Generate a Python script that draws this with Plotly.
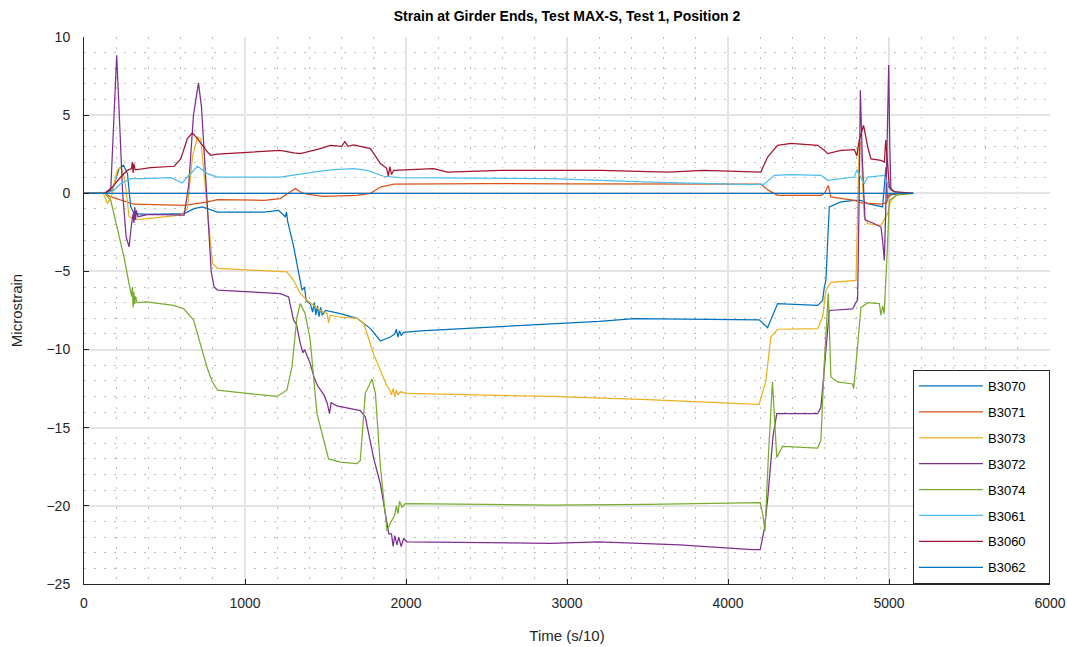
import plotly.graph_objects as go

names = ["B3070", "B3071", "B3073", "B3072", "B3074", "B3061", "B3060", "B3062"]
colors = ["#0072BD", "#D95319", "#EDB120", "#7E2F8E", "#77AC30", "#4DBEEE", "#A2142F", "#0072BD"]

b3070_x = [0, 130, 176, 218, 245, 270, 290, 311, 400, 622, 684, 736, 829, 1119, 1209, 1250, 1258, 1265, 1302, 1333, 1354, 1370, 1380, 1405, 1420, 1430, 1440, 1450, 1460, 1470, 1480, 1500, 1592, 1696, 1779, 1841, 1903, 1930, 1940, 1950, 1960, 1970, 1985, 2090, 2276, 2500, 2898, 3200, 3416, 3800, 4142, 4194, 4246, 4308, 4557, 4588, 4598, 4608, 4629, 4701, 4785, 4826, 4868, 4960, 4981, 4990, 5010, 5080, 5150]
b3070_y = [0, 0, 0.2, 1.58, 1.8, 1.26, -0.87, -1.3, -1.35, -1.3, -0.98, -0.87, -1.2, -1.2, -1.09, -1.5, -1.2, -1.8, -3.4, -5.1, -6.2, -6.0, -6.9, -7.06, -7.6, -7.0, -7.8, -7.2, -7.9, -7.3, -7.8, -7.5, -7.7, -8.0, -8.66, -9.45, -9.2, -9.0, -8.7, -9.2, -8.8, -9.1, -8.9, -8.8, -8.7, -8.55, -8.34, -8.2, -8.02, -8.05, -8.1, -8.1, -8.6, -7.06, -7.17, -6.85, -6.0, -5.57, -0.87, -0.55, -0.45, -0.45, -0.66, -0.87, 1.68, -0.3, -0.1, 0, 0]

b3071_x = [0, 130, 166, 228, 311, 622, 767, 829, 1119, 1219, 1280, 1312, 1350, 1385, 1488, 1696, 1779, 1841, 1924, 2090, 2500, 3000, 3500, 4038, 4204, 4250, 4308, 4577, 4600, 4623, 4639, 4785, 4826, 4950, 4985, 5000, 5050, 5150]
b3071_y = [0, 0, -0.23, -0.45, -0.7, -0.77, -0.55, -0.4, -0.45, -0.34, 0.1, 0.3, 0.05, -0.06, -0.19, -0.13, 0, 0.4, 0.58, 0.6, 0.62, 0.6, 0.6, 0.58, 0.58, 0.2, -0.13, -0.13, 0, 0.5, -0.23, -0.45, -0.62, -0.7, -0.6, -0.1, 0, 0]

b3073_x = [0, 120, 145, 170, 207, 228, 245, 259, 280, 332, 601, 642, 673, 705, 725, 757, 798, 829, 1119, 1260, 1302, 1343, 1385, 1468, 1510, 1519, 1530, 1571, 1696, 1737, 1799, 1861, 1880, 1900, 1910, 1920, 1930, 1940, 1950, 1965, 2007, 2898, 3500, 4080, 4194, 4235, 4266, 4308, 4557, 4588, 4608, 4639, 4764, 4795, 4815, 4825, 4846, 4868, 4950, 4971, 4992, 5010, 5050, 5150]
b3073_y = [0, 0, -0.66, -0.2, 1.47, 1.68, 1.2, 0.4, -1.5, -1.68, -1.4, -0.98, 2.3, 3.6, 3.5, 0.2, -4.5, -4.8, -4.97, -5.03, -5.57, -6.4, -6.85, -7.5, -7.7, -8.3, -7.8, -7.9, -8.0, -8.3, -10.3, -11.75, -12.3, -12.6, -12.9, -12.5, -13.0, -12.6, -12.9, -12.7, -12.8, -13.0, -13.2, -13.46, -13.5, -12.0, -9.2, -8.7, -8.66, -7.9, -6.2, -5.7, -5.57, -5.57, 3.2, 3.3, -1.5, -1.94, -2.05, -1.7, -1.3, -0.5, -0.1, 0]

b3072_x = [0, 124, 166, 185, 203, 215, 240, 262, 280, 295, 305, 310, 315, 320, 325, 335, 400, 622, 650, 680, 711, 730, 760, 790, 808, 830, 970, 1032, 1219, 1271, 1301, 1320, 1343, 1360, 1370, 1405, 1430, 1450, 1470, 1490, 1510, 1525, 1535, 1571, 1716, 1747, 1800, 1841, 1893, 1910, 1920, 1930, 1944, 1955, 1970, 1985, 2007, 2898, 3200, 3700, 4150, 4200, 4225, 4246, 4280, 4303, 4557, 4577, 4600, 4629, 4774, 4805, 4815, 4822, 4835, 4851, 4900, 4950, 4960, 4971, 4980, 4998, 5005, 5012, 5050, 5150]
b3072_y = [0, 0, 0.2, 5.0, 8.83, 6.0, 0, -2.8, -3.43, -2.0, -1.3, -1.9, -0.9, -1.7, -1.1, -1.5, -1.35, -1.4, 0.5, 5.0, 7.06, 5.5, 0, -5.0, -6.0, -6.2, -6.27, -6.3, -6.42, -6.63, -8.1, -8.4, -9.6, -10.2, -10.0, -10.9, -11.8, -12.3, -12.6, -12.9, -13.4, -14.1, -13.4, -13.6, -13.9, -14.3, -17.0, -18.6, -21.8, -21.8, -22.6, -21.9, -22.5, -22.0, -22.6, -22.1, -22.3, -22.4, -22.3, -22.5, -22.8, -22.8, -21.5, -19.6, -15.5, -14.1, -14.1, -13.7, -11.0, -7.5, -7.4, -6.8, 0, 6.6, 2.0, -1.7, -1.9, -2.16, -3.0, -4.3, -1.0, 8.2, 3.0, 0.2, 0.05, 0]

b3074_x = [0, 130, 166, 207, 249, 280, 296, 300, 305, 310, 315, 320, 330, 390, 555, 618, 680, 763, 794, 829, 1032, 1198, 1260, 1292, 1323, 1343, 1374, 1405, 1447, 1519, 1592, 1696, 1716, 1747, 1789, 1810, 1841, 1882, 1903, 1930, 1940, 1950, 1960, 1975, 1996, 2898, 3500, 4150, 4200, 4215, 4230, 4250, 4276, 4303, 4339, 4557, 4577, 4598, 4623, 4639, 4681, 4774, 4780, 4795, 4826, 4868, 4940, 4950, 4960, 4970, 4981, 4990, 5002, 5050, 5150]
b3074_y = [0, 0, -0.45, -2.2, -4.1, -5.8, -6.6, -6.0, -7.3, -6.3, -7.1, -6.6, -7.0, -6.95, -7.17, -7.37, -8.1, -11.1, -12.0, -12.6, -12.8, -13.0, -12.6, -11.1, -7.9, -7.06, -7.7, -9.4, -14.1, -17.0, -17.2, -17.3, -17.1, -12.8, -11.9, -12.8, -17.5, -21.6, -21.1, -20.6, -20.0, -20.5, -19.7, -20.1, -19.85, -19.96, -19.9, -19.8, -19.8, -20.5, -21.6, -17.0, -12.07, -16.9, -16.2, -16.3, -15.8, -10.9, -6.4, -11.75, -12.07, -12.2, -12.5, -10.9, -7.3, -7.0, -7.06, -7.8, -7.2, -7.7, -5.6, -3.5, -0.45, -0.1, 0]

b3061_x = [0, 140, 187, 228, 290, 373, 539, 611, 642, 705, 767, 829, 1119, 1219, 1426, 1530, 1675, 1758, 1861, 1965, 2898, 3520, 4142, 4225, 4287, 4391, 4577, 4619, 4785, 4800, 4846, 4868, 4971, 5002, 5050, 5150]
b3061_y = [0, 0, 0.2, 0.62, 0.94, 0.94, 1.0, 0.66, 1.04, 1.73, 1.26, 1.04, 1.04, 1.04, 1.36, 1.5, 1.58, 1.47, 1.09, 1.0, 0.94, 0.72, 0.56, 0.58, 1.15, 1.2, 1.15, 0.83, 1.04, 1.5, 0.62, 1.04, 1.15, 0.3, 0.05, 0]

b3060_x = [0, 130, 176, 228, 270, 295, 300, 305, 310, 318, 415, 560, 601, 642, 673, 705, 767, 788, 829, 1119, 1219, 1302, 1343, 1468, 1530, 1600, 1620, 1640, 1675, 1779, 1841, 1880, 1890, 1900, 1910, 1924, 2172, 2256, 2587, 3209, 3624, 3850, 4142, 4204, 4246, 4308, 4391, 4557, 4598, 4619, 4701, 4785, 4800, 4815, 4842, 4868, 4888, 4950, 4971, 4980, 5002, 5030, 5150]
b3060_y = [0, 0, 0.4, 1.04, 1.47, 1.58, 2.0, 1.3, 1.9, 1.5, 1.64, 1.73, 2.2, 3.5, 3.86, 3.5, 2.64, 2.43, 2.5, 2.69, 2.75, 2.58, 2.54, 2.86, 3.07, 3.0, 3.3, 3.0, 3.1, 2.86, 1.9, 1.6, 1.1, 1.7, 1.2, 1.47, 1.58, 1.36, 1.47, 1.47, 1.36, 1.47, 1.36, 1.36, 2.32, 3.07, 3.2, 3.07, 2.75, 2.54, 2.75, 2.8, 2.4, 3.4, 4.35, 2.96, 2.2, 2.1, 2.0, 3.4, 0.4, 0.1, 0]

b3062_x = [0, 5150]
b3062_y = [0, 0]

series_x = [b3070_x, b3071_x, b3073_x, b3072_x, b3074_x, b3061_x, b3060_x, b3062_x]
series_y = [b3070_y, b3071_y, b3073_y, b3072_y, b3074_y, b3061_y, b3060_y, b3062_y]

FONT = "Arial, Liberation Sans, Helvetica, sans-serif"
PAD = "\u00a0" * 5

fig = go.Figure()
for n, c, xs, ys in zip(names, colors, series_x, series_y):
    fig.add_trace(go.Scatter(x=xs, y=ys, mode="lines", name=n + PAD, legendgroup=n,
                             line=dict(color=c, width=1.25)))

axis_common = dict(
    showline=True, linecolor="#262626", linewidth=1, mirror=False,
    ticks="inside", ticklen=5, tickcolor="#262626",
    showgrid=True, gridcolor="#e3e3e3", gridwidth=1.5,
    zeroline=False, automargin=False,
    tickfont=dict(family=FONT, size=14, color="#262626"),
    ticklabeloverflow="allow",
)

minor_style = dict(showgrid=True, gridcolor="#bdbdbd", griddash="1.5px,8.5px", gridwidth=1, ticks="")

fig.update_xaxes(range=[0, 6000], dtick=1000, tick0=0,
                 minor=dict(dtick=200, **minor_style),
                 ticklabelstandoff=6,
                 title=dict(text="Time (s/10)", font=dict(family=FONT, size=15, color="#262626"), standoff=20),
                 **axis_common)
fig.update_yaxes(range=[-25, 10], dtick=5, tick0=0,
                 minor=dict(dtick=1, **minor_style),
                 ticklabelstandoff=10,
                 title=dict(text="Microstrain", font=dict(family=FONT, size=15, color="#262626"), standoff=20),
                 **axis_common)

fig.update_layout(
    width=1067, height=647,
    margin=dict(l=84, r=17, t=37, b=63),
    paper_bgcolor="white", plot_bgcolor="white",
    title=dict(text="<b>Strain at Girder Ends, Test MAX-S, Test 1, Position 2</b>",
               x=0.5, xanchor="center", xref="paper", y=0.982, yanchor="top",
               font=dict(family=FONT, size=14, color="black")),
    legend=dict(x=1.0, xanchor="right", y=0.0, yanchor="bottom",
                bgcolor="white", bordercolor="#262626", borderwidth=1,
                font=dict(family=FONT, size=13, color="black"),
                tracegroupgap=6, itemwidth=64),
    showlegend=True,
)

fig.write_html("out.html")
